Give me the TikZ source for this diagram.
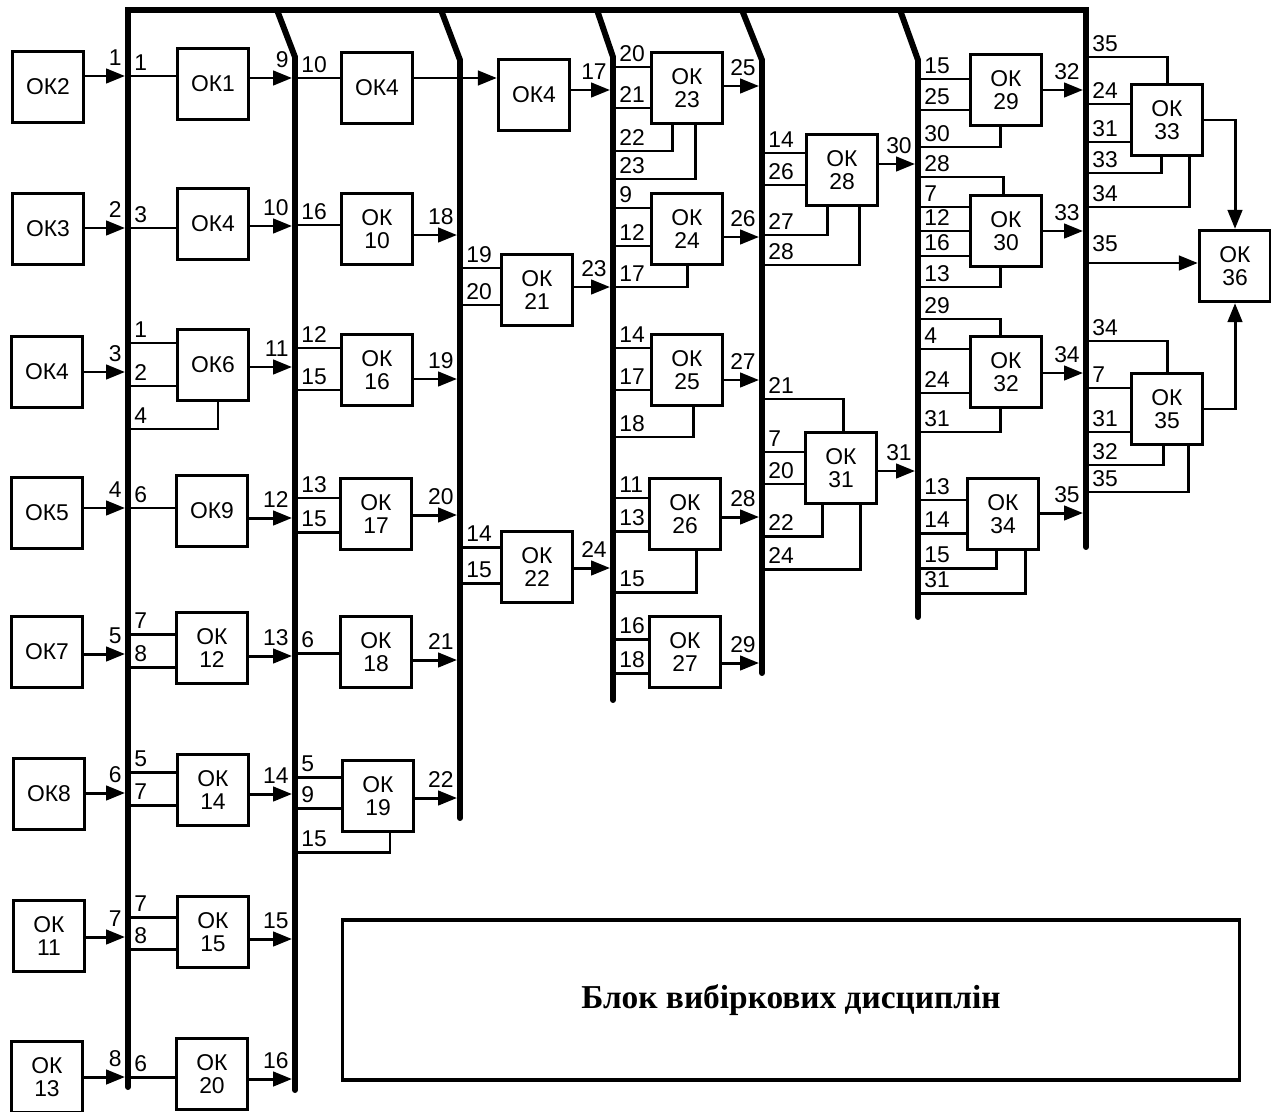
\documentclass[tikz,border=0pt]{standalone}
\usepackage{fontspec}
\setmainfont{Liberation Sans}
\newfontfamily\blockfont{Liberation Serif}
\usetikzlibrary{arrows.meta}
\usetikzlibrary{calc}

% input from bus: bus x, y, box, number
\newcommand{\wW}[4]{%
  \coordinate (#3-#4) at (#1,#2);
  \draw[wire] (#3-#4) -- (#3.west |- #3-#4);
  \node[lab, anchor=south west] (#3-#4-t) at ($(#3-#4)+(6,-5)$) {#4};}
\newcommand{\wS}[5]{% bus x, y, box, dx, number
  \coordinate (#3-#5) at (#1,#2);
  \draw[wire] (#3-#5) -| ($(#3.south)+(#4,0)$);
  \node[lab, anchor=south west] (#3-#5-t) at ($(#3-#5)+(6,-5)$) {#5};}
\newcommand{\wN}[5]{% bus x, y, box, dx, number
  \coordinate (#3-#5) at (#1,#2);
  \draw[wire] (#3-#5) -| ($(#3.north)+(#4,0)$);
  \node[lab, anchor=south west] (#3-#5-t) at ($(#3-#5)+(6,-5)$) {#5};}
% output to bus: box, bus x, y, number
\newcommand{\wO}[4]{%
  \coordinate (#1-o) at (#2-3,#3);
  \draw[arr] (#1.east |- #1-o) -- (#1-o);
  \node[lab, anchor=south east] (#1-o-t) at ($(#1-o)+(-3,-10)$) {#4};}

\begin{document}
\begin{tikzpicture}[x=0.02cm, y=-0.02cm,
  ok/.style={draw, line width=1.9pt, minimum width=1.42cm, minimum height=1.42cm,
    inner sep=0pt, align=center, font=\fontsize{13}{13}\selectfont},
  bus/.style={line width=3.4pt, line cap=round},
  wire/.style={line width=1.7pt},
  arr/.style={wire, -{Triangle[length=0.38cm,width=0.29cm]}},
  lab/.style={inner sep=0pt, font=\fontsize{13}{13}\selectfont}]
\useasboundingbox (0,0) rectangle (1271,1112);

% шини
\draw[bus] (128,1087) -- (128,10) -- (1086,10) -- (1086,547);
\draw[bus] (277,10) -- (295,57) -- (295,1090);
\draw[bus] (441,10) -- (460,60) -- (460,818);
\draw[bus] (597,10) -- (613,57) -- (613,700);
\draw[bus] (742,10) -- (762,60) -- (762,673);
\draw[bus] (900,10) -- (918,60) -- (918,617);

% блоки
\node[ok] (o2) at (48,87) {ОК2};
\node[ok] (o3) at (48,229) {ОК3};
\node[ok] (o4a) at (47,372) {ОК4};
\node[ok] (o5) at (47,513) {ОК5};
\node[ok] (o7) at (47,652) {ОК7};
\node[ok] (o8) at (49,794) {ОК8};
\node[ok] (o11) at (49,936) {ОК\\11};
\node[ok] (o13) at (47,1077) {ОК\\13};

\node[ok] (o1) at (213,84) {ОК1};
\node[ok] (o4b) at (213,224) {ОК4};
\node[ok] (o6) at (213,365) {ОК6};
\node[ok] (o9) at (212,511) {ОК9};
\node[ok] (o12) at (212,648) {ОК\\12};
\node[ok] (o14) at (213,790) {ОК\\14};
\node[ok] (o15) at (213,932) {ОК\\15};
\node[ok] (o20) at (212,1074) {ОК\\20};

\node[ok] (o4c) at (377,88) {ОК4};
\node[ok] (o10) at (377,229) {ОК\\10};
\node[ok] (o16) at (377,370) {ОК\\16};
\node[ok] (o17) at (376,514) {ОК\\17};
\node[ok] (o18) at (376,652) {ОК\\18};
\node[ok] (o19) at (378,796) {ОК\\19};

\node[ok] (o4d) at (534,95) {ОК4};
\node[ok] (o21) at (537,290) {ОК\\21};
\node[ok] (o22) at (537,567) {ОК\\22};

\node[ok] (o23) at (687,88) {ОК\\23};
\node[ok] (o24) at (687,229) {ОК\\24};
\node[ok] (o25) at (687,370) {ОК\\25};
\node[ok] (o26) at (685,514) {ОК\\26};
\node[ok] (o27) at (685,652) {ОК\\27};

\node[ok] (o28) at (842,170) {ОК\\28};
\node[ok] (o31) at (841,468) {ОК\\31};

\node[ok] (o29) at (1006,90) {ОК\\29};
\node[ok] (o30) at (1006,231) {ОК\\30};
\node[ok] (o32) at (1006,372) {ОК\\32};
\node[ok] (o34) at (1003,514) {ОК\\34};

\node[ok] (o33) at (1167,120) {ОК\\33};
\node[ok] (o35) at (1167,409) {ОК\\35};
\node[ok] (o36) at (1235,266) {ОК\\36};

% вхідні блоки
\wO{o2}{128}{76}{1}
\wO{o3}{128}{228}{2}
\wO{o4a}{128}{372}{3}
\wO{o5}{128}{508}{4}
\wO{o7}{128}{654}{5}
\wO{o8}{128}{793}{6}
\wO{o11}{128}{937}{7}
\wO{o13}{128}{1077}{8}

% другий стовпець
\wW{128}{76}{o1}{1}
\wW{128}{228}{o4b}{3}
\wW{128}{343}{o6}{1}
\wW{128}{386}{o6}{2}
\wS{128}{429}{o6}{5}{4}
\wW{128}{508}{o9}{6}
\wW{128}{634}{o12}{7}
\wW{128}{667}{o12}{8}
\wW{128}{772}{o14}{5}
\wW{128}{805}{o14}{7}
\wW{128}{917}{o15}{7}
\wW{128}{949}{o15}{8}
\wW{128}{1077}{o20}{6}
\wO{o1}{295}{78}{9}
\wO{o4b}{295}{226}{10}
\wO{o6}{295}{367}{11}
\wO{o9}{295}{518}{12}
\wO{o12}{295}{656}{13}
\wO{o14}{295}{794}{14}
\wO{o15}{295}{939}{15}
\wO{o20}{295}{1079}{16}

% третій стовпець
\wW{295}{78}{o4c}{10}
\wW{295}{225}{o10}{16}
\wW{295}{348}{o16}{12}
\wW{295}{390}{o16}{15}
\wW{295}{498}{o17}{13}
\wW{295}{532}{o17}{15}
\wW{295}{653}{o18}{6}
\wW{295}{777}{o19}{5}
\wW{295}{808}{o19}{9}
\wS{295}{852}{o19}{12}{15}
\draw[arr] (o4c.east |- o4c-10) -- (o4d.west |- o4c-10);
\wO{o10}{460}{235}{18}
\wO{o16}{460}{379}{19}
\wO{o17}{460}{515}{20}
\wO{o18}{460}{660}{21}
\wO{o19}{460}{798}{22}

\wW{460}{268}{o21}{19}
\wW{460}{305}{o21}{20}
\wW{460}{547}{o22}{14}
\wW{460}{583}{o22}{15}
\wO{o4d}{613}{90}{17}
\wO{o21}{613}{287}{23}
\wO{o22}{613}{568}{24}

% четвертий стовпець
\wW{613}{67}{o23}{20}
\wW{613}{108}{o23}{21}
\wS{613}{151}{o23}{-15}{22}
\wS{613}{179}{o23}{8}{23}
\wW{613}{208}{o24}{9}
\wW{613}{246}{o24}{12}
\wS{613}{287}{o24}{0}{17}
\wW{613}{348}{o25}{14}
\wW{613}{390}{o25}{17}
\wS{613}{437}{o25}{6}{18}
\wW{613}{498}{o26}{11}
\wW{613}{531}{o26}{13}
\wS{613}{592}{o26}{11}{15}
\wW{613}{639}{o27}{16}
\wW{613}{673}{o27}{18}
\wO{o23}{762}{86}{25}
\wO{o24}{762}{237}{26}
\wO{o25}{762}{380}{27}
\wO{o26}{762}{517}{28}
\wO{o27}{762}{663}{29}

% п'ятий стовпець
\wW{762}{153}{o28}{14}
\wW{762}{185}{o28}{26}
\wS{762}{235}{o28}{-15}{27}
\wS{762}{265}{o28}{17}{28}
\wN{762}{399}{o31}{2}{21}
\wW{762}{452}{o31}{7}
\wW{762}{484}{o31}{20}
\wS{762}{536}{o31}{-19}{22}
\wS{762}{569}{o31}{19}{24}
\wO{o28}{918}{164}{30}
\wO{o31}{918}{471}{31}

% шостий стовпець
\wW{918}{79}{o29}{15}
\wW{918}{110}{o29}{25}
\wS{918}{147}{o29}{-6}{30}
\wN{918}{177}{o30}{-3}{28}
\wW{918}{207}{o30}{7}
\wW{918}{231}{o30}{12}
\wW{918}{256}{o30}{16}
\wS{918}{287}{o30}{-6}{13}
\wN{918}{319}{o32}{-6}{29}
\wW{918}{349}{o32}{4}
\wW{918}{393}{o32}{24}
\wS{918}{432}{o32}{-6}{31}
\wW{918}{500}{o34}{13}
\wW{918}{533}{o34}{14}
\wS{918}{568}{o34}{-7}{15}
\wS{918}{593}{o34}{22}{31}
\wO{o29}{1086}{90}{32}
\wO{o30}{1086}{231}{33}
\wO{o32}{1086}{373}{34}
\wO{o34}{1086}{513}{35}

% сьомий стовпець
\wN{1086}{57}{o33}{0}{35}
\wW{1086}{104}{o33}{24}
\wW{1086}{142}{o33}{31}
\wS{1086}{173}{o33}{-6}{33}
\wS{1086}{207}{o33}{22}{34}
\wN{1086}{341}{o35}{0}{34}
\wW{1086}{388}{o35}{7}
\wW{1086}{432}{o35}{31}
\wS{1086}{465}{o35}{-4}{32}
\wS{1086}{492}{o35}{21}{35}
\coordinate (o36-35) at (1086,263);
\draw[arr] (o36-35) -- (o36.west |- o36-35);
\node[lab, anchor=south west] (o36-35-t) at ($(o36-35)+(6,-11)$) {35};
\draw[arr] (o33.east) -| (o36.north);
\draw[arr] (o35.east) -| (o36.south);

\node[draw, line width=1.9pt, minimum width=17.94cm, minimum height=3.2cm,
  font=\blockfont\bfseries\fontsize{19}{22}\selectfont] (blk) at (791,1000)
  {Блок вибіркових дисциплін};
\end{tikzpicture}
\end{document}
